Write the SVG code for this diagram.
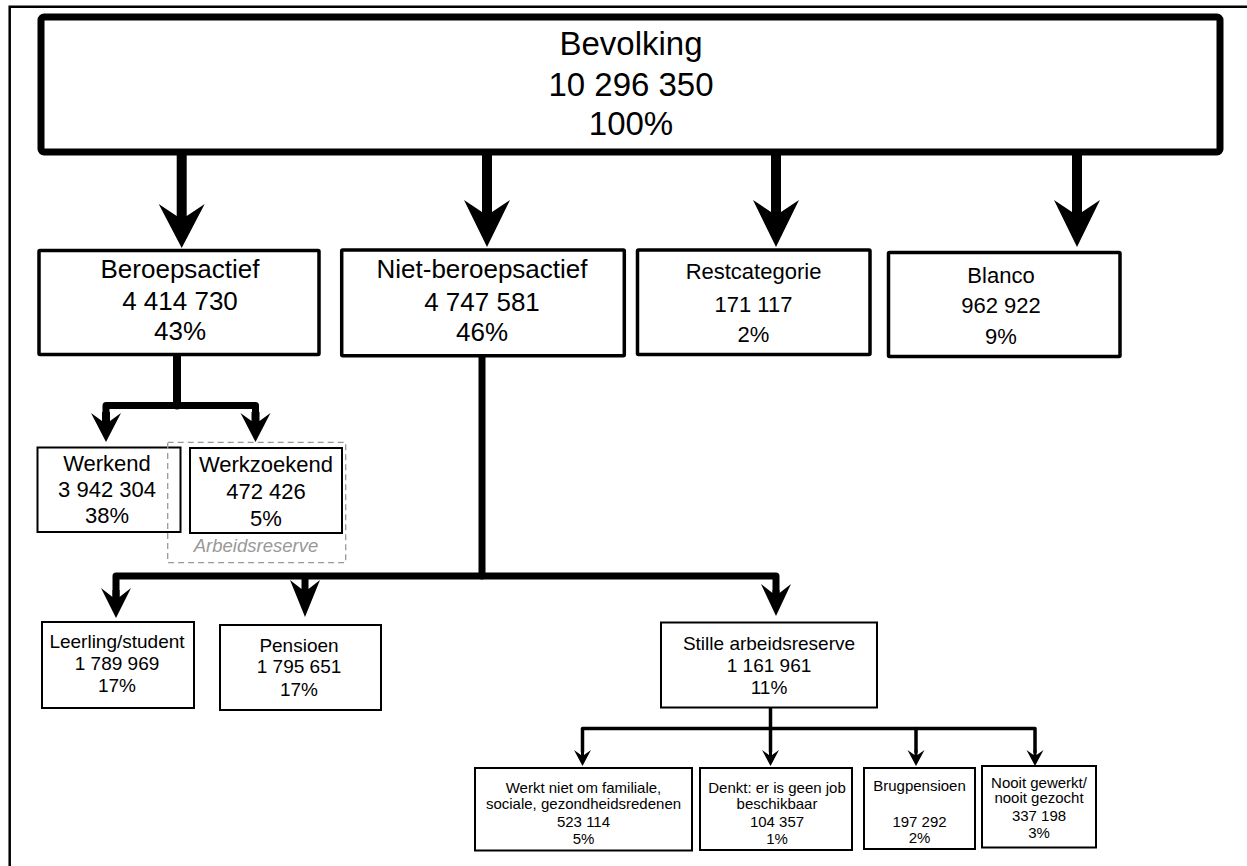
<svg xmlns="http://www.w3.org/2000/svg" width="1247" height="866" viewBox="0 0 1247 866">
<style>
text{font-family:"Liberation Sans",Arial,sans-serif;fill:#000;text-anchor:middle}
.box{fill:#fff;stroke:#000}
.b1{stroke-width:7}
.b2{stroke-width:3.5}
.b3{stroke-width:2}
.ln{fill:none;stroke:#000;stroke-linejoin:round;stroke-linecap:round}
.ah{fill:#000}
.t33{font-size:33px}
.t26{font-size:26px}
.t22{font-size:22px}
.t19{font-size:19px}
.t15{font-size:15px}
</style>
<rect width="1247" height="866" fill="#fff"/>
<path d="M9.7,866 V6.7 H1247" fill="none" stroke="#000" stroke-width="2.5"/>

<g id="connectors">
  <!-- top arrows -->
  <path class="ah" d="M176.7,152 H186.7 V216 L204.7,204 L181.7,248 L158.7,204 L176.7,216 Z"/>
  <path class="ah" d="M482,152 H492 V212 L510,200 L487,247 L464,200 L482,212 Z"/>
  <path class="ah" d="M771,152 H781 V212 L799,200 L776,247 L753,200 L771,212 Z"/>
  <path class="ah" d="M1072,148 H1082 V212 L1100,200 L1077,247 L1054,200 L1072,212 Z"/>
  <!-- Beroepsactief children -->
  <path class="ln" stroke-width="8" d="M177,356 V405.5"/>
  <path class="ln" stroke-width="7" d="M106,420 V405.5 H255.5 V420"/>
  <path class="ah" d="M102,412 H110 V421 L121,413 L106,442 L91,413 L102,421 Z"/>
  <path class="ah" d="M251.5,412 H259.5 V421 L270.5,413 L255.5,442 L240.5,413 L251.5,421 Z"/>
  <!-- Niet-beroepsactief children -->
  <path class="ln" stroke-width="7" d="M482,357 V576"/>
  <path class="ln" stroke-width="7" d="M116,596 V576 H776 V594"/>
  <path class="ah" d="M112.5,590 H119.5 V597 L131,588 L116,618 L101,588 L112.5,597 Z"/>
  <path class="ah" d="M301.5,576 H308.5 V589 L320,580 L305,617 L290,580 L301.5,589 Z"/>
  <path class="ah" d="M772.5,590 H779.5 V593 L791,584 L776,616 L761,584 L772.5,593 Z"/>
  <!-- Stille arbeidsreserve children -->
  <path class="ln" stroke-width="3.5" d="M770.5,708 V752"/>
  <path class="ln" stroke-width="3.5" d="M582.5,752 V728.5 H1035 V752"/>
  <path class="ln" stroke-width="3.5" d="M916,728.5 V752"/>
  <path class="ah" d="M581,750 H584 V755 L591,750 L582.5,766 L574,750 L581,755 Z"/>
  <path class="ah" d="M769,750 H772 V755 L779,750 L770.5,766 L762,750 L769,755 Z"/>
  <path class="ah" d="M914.5,750 H917.5 V755 L924.5,750 L916,766 L907.5,750 L914.5,755 Z"/>
  <path class="ah" d="M1033.5,750 H1036.5 V755 L1043.5,750 L1035,766 L1026.5,750 L1033.5,755 Z"/>
</g>

<g id="bevolking">
  <rect class="box b1" x="41" y="17" width="1179" height="135" rx="3"/>
  <text class="t33" x="631" y="55">Bevolking</text>
  <text class="t33" x="631" y="96">10 296 350</text>
  <text class="t33" x="631" y="135">100%</text>
</g>

<g id="beroepsactief">
  <rect class="box b2" x="39" y="250.5" width="280" height="104" rx="1"/>
  <text class="t26" x="180" y="278">Beroepsactief</text>
  <text class="t26" x="180" y="310">4 414 730</text>
  <text class="t26" x="180" y="340">43%</text>
</g>

<g id="niet-beroepsactief">
  <rect class="box b2" x="341.7" y="250" width="282.6" height="105.7" rx="1"/>
  <text class="t26" x="482" y="278.3">Niet-beroepsactief</text>
  <text class="t26" x="482" y="310.7">4 747 581</text>
  <text class="t26" x="482" y="340.7">46%</text>
</g>

<g id="restcategorie">
  <rect class="box b2" x="637.5" y="250" width="232.5" height="104.5" rx="1"/>
  <text class="t22" x="753.5" y="279">Restcategorie</text>
  <text class="t22" x="753.5" y="311.7">171 117</text>
  <text class="t22" x="753.5" y="341.7">2%</text>
</g>

<g id="blanco">
  <rect class="box b2" x="888.5" y="252.5" width="231.5" height="104" rx="1"/>
  <text class="t22" x="1001" y="282.7">Blanco</text>
  <text class="t22" x="1001" y="313">962 922</text>
  <text class="t22" x="1001" y="344">9%</text>
</g>

<g id="werkend">
  <rect class="box b3" x="37.5" y="447.5" width="143" height="84.5"/>
  <text class="t22" x="107" y="470.5">Werkend</text>
  <text class="t22" x="107" y="496.5">3 942 304</text>
  <text class="t22" x="107" y="523">38%</text>
</g>

<g id="werkzoekend">
  <rect class="box b3" x="190" y="448" width="152" height="85"/>
  <text class="t22" x="266" y="472">Werkzoekend</text>
  <text class="t22" x="266" y="499">472 426</text>
  <text class="t22" x="266" y="526">5%</text>
</g>

<g id="arbeidsreserve">
  <rect x="167.7" y="442.3" width="178" height="120.4" fill="none" stroke="#999" stroke-width="1.3" stroke-dasharray="6 4"/>
  <text x="256" y="552" style="font-size:18.5px;font-style:italic;fill:#999">Arbeidsreserve</text>
</g>

<g id="leerling">
  <rect class="box b3" x="42" y="622" width="152" height="86"/>
  <text class="t19" x="117" y="648">Leerling/student</text>
  <text class="t19" x="117" y="670">1 789 969</text>
  <text class="t19" x="117" y="692">17%</text>
</g>

<g id="pensioen">
  <rect class="box b3" x="220" y="625" width="161" height="85"/>
  <text class="t19" x="299" y="651.5">Pensioen</text>
  <text class="t19" x="299" y="673">1 795 651</text>
  <text class="t19" x="299" y="696">17%</text>
</g>

<g id="stille-arbeidsreserve">
  <rect class="box b3" x="661" y="622.5" width="216" height="85"/>
  <text class="t19" x="769" y="650">Stille arbeidsreserve</text>
  <text class="t19" x="769" y="672">1 161 961</text>
  <text class="t19" x="769" y="694">11%</text>
</g>

<g id="familiale">
  <rect class="box b3" x="475" y="768" width="217" height="82.5"/>
  <text class="t15" x="583.5" y="793">Werkt niet om familiale,</text>
  <text class="t15" x="583.5" y="809">sociale, gezondheidsredenen</text>
  <text class="t15" x="583.5" y="827">523 114</text>
  <text class="t15" x="583.5" y="843.5">5%</text>
</g>

<g id="geen-job">
  <rect class="box b3" x="700" y="768" width="152" height="82"/>
  <text class="t15" x="777" y="793">Denkt: er is geen job</text>
  <text class="t15" x="777" y="808.5">beschikbaar</text>
  <text class="t15" x="777" y="827">104 357</text>
  <text class="t15" x="777" y="844">1%</text>
</g>

<g id="brugpensioen">
  <rect class="box b3" x="864" y="768" width="111" height="81"/>
  <text class="t15" x="919.5" y="791">Brugpensioen</text>
  <text class="t15" x="919.5" y="827">197 292</text>
  <text class="t15" x="919.5" y="843">2%</text>
</g>

<g id="nooit">
  <rect class="box b3" x="982" y="766" width="114" height="81.5"/>
  <text class="t15" x="1039" y="787.5">Nooit gewerkt/</text>
  <text class="t15" x="1039" y="803">nooit gezocht</text>
  <text class="t15" x="1039" y="821">337 198</text>
  <text class="t15" x="1039" y="837.5">3%</text>
</g>
</svg>
